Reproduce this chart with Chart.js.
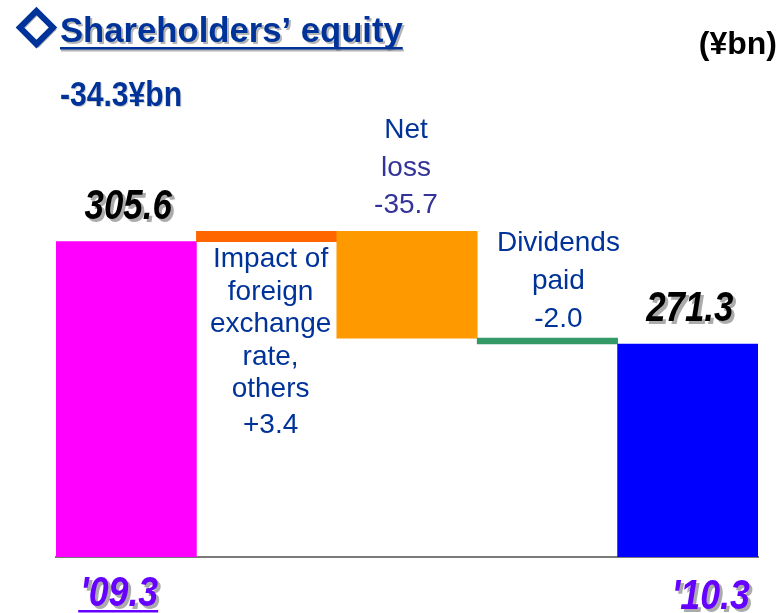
<!DOCTYPE html>
<html><head><meta charset="utf-8">
<script src="https://cdn.jsdelivr.net/npm/chart.js@4"></script>
<style>html,body{margin:0;padding:0;background:#fff;}#wrap{width:781px;height:613px;position:relative;}</style>
</head><body><div id="wrap"><canvas id="c" width="781" height="613"></canvas></div>
<script>
// ---- data ----
const categories = ["'09.3", ["Impact of", "foreign", "exchange", "rate,", "others"], ["Net", "loss"], ["Dividends", "paid"], "'10.3"];
const startValue = 305.6;
const changes = [3.4, -35.7, -2.0];
const endValue = 271.3;
const barColors = ['#FF00FF', '#FF6600', '#FF9900', '#339966', '#0000FF'];
const axisMin = 200;
const axisMax = 353;
const titleText = "Shareholders\u2019 equity";
const unitText = "(\u00A5bn)";

// build floating waterfall bars
const floating = [[axisMin, startValue]];
let running = startValue;
changes.forEach(c => { const next = Math.round((running + c) * 10) / 10; floating.push([running, next]); running = next; });
floating.push([axisMin, endValue]);
const totalChange = (endValue - startValue).toFixed(1) + "\u00A5bn";

const SANS = '"Liberation Sans", Arial, sans-serif';

function drawText(ctx, str, x, y, font, color, align, shadow, sx) {
  sx = sx || 1;
  ctx.save();
  ctx.font = font;
  ctx.textAlign = align || 'left';
  ctx.textBaseline = 'alphabetic';
  if (shadow) {
    ctx.shadowColor = shadow.color;
    ctx.shadowOffsetX = shadow.dx;
    ctx.shadowOffsetY = shadow.dy;
    ctx.shadowBlur = shadow.blur || 0;
  }
  ctx.fillStyle = color;
  ctx.translate(x, y);
  ctx.scale(sx, 1);
  ctx.fillText(str, 0, 0);
  const w = ctx.measureText(str).width * sx;
  ctx.restore();
  return w;
}

const annotate = {
  id: 'annotate',
  afterDraw(chart) {
    const ctx = chart.ctx;
    const meta = chart.getDatasetMeta(0);
    const ys = chart.scales.y;
    const navy = '#003399';

    // title diamond
    ctx.save();
    ctx.font = 'bold 48px "DejaVu Sans"';
    ctx.textAlign = 'center';
    ctx.textBaseline = 'middle';
    ctx.shadowColor = 'rgba(120,120,120,0.6)'; ctx.shadowOffsetX = 2; ctx.shadowOffsetY = 2;
    ctx.fillStyle = navy; ctx.strokeStyle = navy; ctx.lineWidth = 3.5;
    ctx.fillText('\u25C7', 36.5, 28);
    ctx.shadowColor = 'transparent';
    ctx.strokeText('\u25C7', 36.5, 28);
    ctx.restore();

    // title text + underline
    const tw = drawText(ctx, titleText, 60, 42, 'bold 35px ' + SANS, navy, 'left', {color: 'rgba(130,130,130,0.6)', dx: 2, dy: 2}, 0.99);
    ctx.save();
    ctx.shadowColor = 'rgba(130,130,130,0.6)'; ctx.shadowOffsetX = 1; ctx.shadowOffsetY = 2;
    ctx.fillStyle = navy; ctx.fillRect(60, 47, tw, 2.5);
    ctx.restore();

    // total change
    drawText(ctx, totalChange, 60, 106, 'bold 35px ' + SANS, navy, 'left', {color: 'rgba(160,160,160,0.5)', dx: 1, dy: 1}, 0.86);
    // unit
    drawText(ctx, unitText, 777, 54, 'bold 32px ' + SANS, '#000', 'right', null, 1);

    // totals: values and category labels
    const totals = [{i: 0, v: startValue, dx: 2, cdx: -7, cb: 606, underline: true}, {i: 4, v: endValue, dx: 2, cdx: 23, cb: 609, underline: false}];
    totals.forEach(t => {
      const bar = meta.data[t.i];
      drawText(ctx, t.v.toFixed(1), bar.x + t.dx, bar.y - 23, 'bold italic 42px ' + SANS, '#000', 'center', {color: 'rgba(150,150,150,0.8)', dx: 3, dy: 3}, 0.83);
      const cw = drawText(ctx, categories[t.i], bar.x + t.cdx, t.cb, 'bold italic 42px ' + SANS, '#6600FF', 'center', {color: 'rgba(150,150,150,0.8)', dx: 3, dy: 3}, 0.85);
      if (t.underline) {
        ctx.save(); ctx.fillStyle = '#6600FF';
        ctx.fillRect(bar.x + t.cdx - cw / 2 - 2, 610, cw + 2, 2.5);
        ctx.restore();
      }
    });

    // change labels
    const fmt = c => (c > 0 ? '+' : '') + c.toFixed(1);
    const font = '28px ' + SANS;
    // impact (below bar)
    {
      const i = 1, bar = meta.data[i];
      const bottom = ys.getPixelForValue(Math.min(floating[i][0], floating[i][1]));
      const lines = categories[i];
      let yb = bottom + 25.5;
      lines.forEach((l, k) => drawText(ctx, l, bar.x + 4, yb + k * 32.5, font, navy, 'center'));
      drawText(ctx, fmt(changes[0]), bar.x + 4, yb + (lines.length - 1) * 32.5 + 36, font, navy, 'center');
    }
    // net loss (above bar)
    {
      const i = 2, bar = meta.data[i];
      const top = ys.getPixelForValue(Math.max(floating[i][0], floating[i][1]));
      const lines = categories[i].concat([fmt(changes[1])]);
      const last = top - 18, lh = 37.5;
      lines.forEach((l, k) => drawText(ctx, l, bar.x - 1, last - (lines.length - 1 - k) * lh, font, k === 0 ? navy : '#333399', 'center'));
    }
    // dividends (above bar)
    {
      const i = 3, bar = meta.data[i];
      const top = ys.getPixelForValue(Math.max(floating[i][0], floating[i][1]));
      const lines = categories[i].concat([fmt(changes[2])]);
      const last = top - 11, lh = 38;
      lines.forEach((l, k) => drawText(ctx, l, bar.x + 11, last - (lines.length - 1 - k) * lh, font, navy, 'center'));
    }
  }
};

new Chart(document.getElementById('c'), {
  type: 'bar',
  data: {
    labels: categories,
    datasets: [{
      data: floating,
      backgroundColor: barColors,
      borderWidth: 0,
      borderSkipped: false,
      barPercentage: 1,
      categoryPercentage: 1
    }]
  },
  options: {
    responsive: false,
    animation: false,
    devicePixelRatio: 1,
    layout: {padding: {left: 56, right: 23, top: 100, bottom: 56}},
    plugins: {legend: {display: false}, tooltip: {enabled: false}, title: {display: false}},
    scales: {
      x: {
        display: true,
        ticks: {display: false},
        grid: {display: false, drawTicks: false},
        border: {display: true, color: '#7a7a7a', width: 2},
        afterFit: s => { s.height = 0; }
      },
      y: {display: false, min: axisMin, max: axisMax}
    }
  },
  plugins: [annotate]
});
</script></body></html>
